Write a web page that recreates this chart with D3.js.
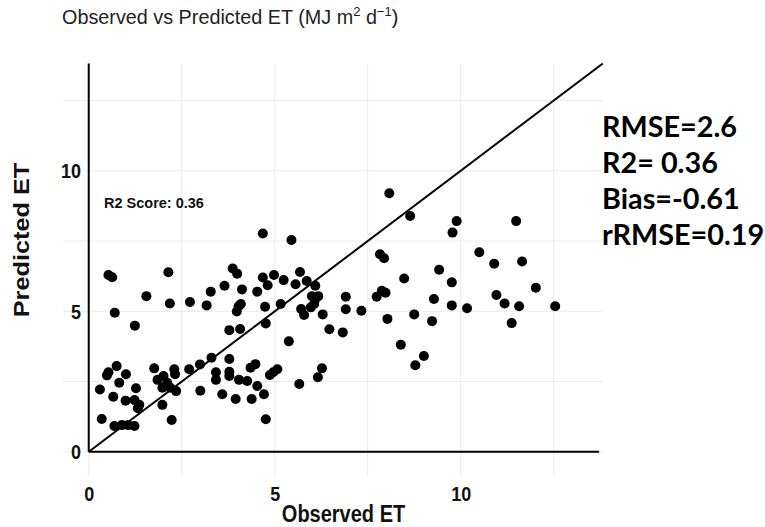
<!DOCTYPE html>
<html>
<head>
<meta charset="utf-8">
<script src="https://cdn.jsdelivr.net/npm/d3@7"></script>
<style>
  body { margin: 0; background: #fff; }
</style>
</head>
<body>
<div id="chart"></div>
<script>
// Observed / predicted ET pairs
const observed = [
  0.53, 0.63, 2.14, 1.55, 2.18, 2.72, 3.17, 3.28, 0.70, 1.24,
  4.68, 5.45, 3.87, 3.99, 3.65, 4.12, 4.53, 4.68, 4.98, 5.24,
  4.81, 5.68, 5.56, 5.86, 6.09, 4.09, 4.03, 3.98, 4.74, 5.16,
  6.00, 6.17, 6.08, 6.06, 5.97, 5.71, 5.79, 6.29, 4.76, 3.78,
  4.07, 5.38, 0.75, 0.53, 0.49, 1.00, 0.82, 0.30, 0.66, 0.99,
  1.27, 1.23, 1.36, 1.32, 0.35, 0.69, 0.89, 1.06, 1.23, 2.23,
  1.98, 1.76, 1.85, 2.01, 2.30, 2.32, 2.11, 1.98, 2.19, 2.35,
  2.70, 2.99, 3.30, 3.00, 3.78, 3.42, 3.42, 3.78, 3.78, 4.04,
  4.26, 4.35, 4.48, 4.53, 3.59, 3.95, 4.38, 4.71, 4.87, 4.96,
  5.07, 5.66, 6.16, 6.27, 4.76, 8.08, 8.64, 9.89, 9.78, 11.49,
  10.50, 10.90, 11.65, 7.83, 7.94, 9.42, 8.48, 9.76, 6.91, 7.74,
  7.88, 7.98, 9.28, 10.96, 12.02, 11.18, 11.57, 12.54, 9.76, 10.17,
  6.91, 7.33, 8.03, 8.75, 9.23, 11.37, 6.47, 6.83, 8.39, 9.01,
  8.78
];
const predicted = [
  6.29, 6.21, 6.39, 5.54, 5.28, 5.33, 5.21, 5.70, 4.95, 4.49,
  7.77, 7.54, 6.52, 6.34, 5.91, 5.78, 5.70, 6.20, 6.29, 6.11,
  5.93, 6.40, 5.96, 6.08, 5.91, 5.26, 5.18, 4.99, 5.16, 5.26,
  5.54, 5.54, 5.40, 5.26, 5.14, 5.08, 4.87, 4.89, 4.57, 4.33,
  4.37, 3.93, 3.05, 2.83, 2.72, 2.76, 2.46, 2.22, 1.96, 1.82,
  2.26, 1.84, 1.67, 1.55, 1.17, 0.92, 0.95, 0.95, 0.92, 1.13,
  1.67, 2.97, 2.56, 2.70, 2.94, 2.76, 2.46, 2.28, 2.28, 2.16,
  2.94, 3.11, 3.35, 2.17, 3.30, 2.83, 2.56, 2.85, 2.70, 2.56,
  2.52, 2.99, 3.12, 2.34, 2.05, 1.88, 1.88, 2.05, 2.73, 2.83,
  2.94, 2.41, 2.65, 2.97, 1.16, 9.20, 8.39, 8.21, 7.80, 8.21,
  7.10, 6.69, 6.77, 7.03, 6.89, 6.48, 6.17, 6.03, 5.52, 5.52,
  5.73, 5.66, 5.44, 5.58, 5.84, 5.28, 5.18, 5.18, 5.21, 5.11,
  5.07, 5.02, 4.73, 4.89, 4.65, 4.58, 4.36, 4.25, 3.81, 3.41,
  3.08
];
const tickValues = [0, 5, 10];
const gridValues = [0, 2.5, 5, 7.5, 10, 12.5];
const statLines = ["RMSE=2.6", "R2= 0.36", "Bias=-0.61", "rRMSE=0.19"];
const scoreLabel = "R2 Score: 0.36";

const data = observed.map((d, i) => ({obs: d, pred: predicted[i]}));

const width = 765;
const height = 527;
const lineMax = 13.82;
const stretch = 1.15; // text in the source image is a bit taller than wide
const font = "'Liberation Sans', Arial, sans-serif";

const x = d3.scaleLinear()
    .domain([-0.7, lineMax])
    .range([62.7, 88.7 + 37.2 * lineMax]);

const y = d3.scaleLinear()
    .domain([-0.85, lineMax])
    .range([451.8 + 0.85 * 28.1, 451.8 - 28.1 * lineMax]);

const svg = d3.select("#chart")
  .append("svg")
    .attr("width", width)
    .attr("height", height)
    .attr("viewBox", [0, 0, width, height])
    .style("font-family", font);

// grid lines
const grid = svg.append("g")
    .attr("stroke", "#ebebeb")
    .attr("stroke-width", 1);
grid.selectAll("line.v")
  .data(gridValues)
  .join("line")
    .attr("class", "v")
    .attr("x1", d => x(d)).attr("x2", d => x(d))
    .attr("y1", y.range()[0]).attr("y2", y.range()[1]);
grid.selectAll("line.h")
  .data(gridValues)
  .join("line")
    .attr("class", "h")
    .attr("y1", d => y(d)).attr("y2", d => y(d))
    .attr("x1", x.range()[0]).attr("x2", x.range()[1]);

// axis lines at zero and 1:1 line
const ref = svg.append("g")
    .attr("stroke", "#000")
    .attr("stroke-width", 2)
    .attr("fill", "none");
ref.append("line")
    .attr("x1", x(0)).attr("x2", x(0))
    .attr("y1", y(0)).attr("y2", y(lineMax));
ref.append("line")
    .attr("x1", x(0)).attr("x2", x(lineMax - 0.1))
    .attr("y1", y(0)).attr("y2", y(0));
ref.append("line")
    .attr("x1", x(0)).attr("x2", x(lineMax))
    .attr("y1", y(0)).attr("y2", y(lineMax));

// points
svg.append("g")
    .attr("fill", "#000")
  .selectAll("circle")
  .data(data)
  .join("circle")
    .attr("cx", d => x(d.obs))
    .attr("cy", d => y(d.pred))
    .attr("r", 5);

// axes (labels only)
svg.append("g")
    .attr("transform", `translate(0,501)`)
    .call(d3.axisBottom(x).tickValues(tickValues).tickSize(0).tickFormat(d3.format("d")))
    .call(g => g.select(".domain").remove())
    .attr("font-family", font)
    .call(g => g.selectAll("text")
        .attr("font-size", 18)
        .attr("font-weight", "bold")
        .attr("fill", "#111")
        .attr("dy", null)
        .attr("y", 0)
        .attr("transform", `scale(1,${stretch})`));

svg.append("g")
    .attr("transform", `translate(81,0)`)
    .call(d3.axisLeft(y).tickValues(tickValues).tickSize(0).tickFormat(d3.format("d")))
    .call(g => g.select(".domain").remove())
    .attr("font-family", font)
    .call(g => g.selectAll("text")
        .attr("font-size", 18)
        .attr("font-weight", "bold")
        .attr("fill", "#111")
        .attr("x", 0)
        .attr("dy", null)
        .attr("y", 6)
        .attr("transform", `scale(1,${stretch})`));

svg.append("text")
    .attr("transform", `translate(343.5,522) scale(1,${stretch})`)
    .attr("text-anchor", "middle")
    .attr("font-size", 20)
    .attr("font-weight", "bold")
    .attr("fill", "#111")
    .text("Observed ET");

svg.append("text")
    .attr("transform", `translate(29,240) rotate(-90) scale(${stretch},1)`)
    .attr("text-anchor", "middle")
    .attr("font-size", 22)
    .attr("font-weight", "bold")
    .attr("fill", "#111")
    .text("Predicted ET");

// title
const title = svg.append("text")
    .attr("transform", `translate(62,24) scale(1,1.05)`)
    .attr("font-size", 19.8)
    .attr("fill", "#222");
title.append("tspan").text("Observed vs Predicted ET (MJ m");
title.append("tspan").attr("font-size", 13).attr("dy", -8).text("2");
title.append("tspan").attr("dy", 8).text(" d");
title.append("tspan").attr("font-size", 13).attr("dy", -8).text("\u22121");
title.append("tspan").attr("dy", 8).text(")");

// in-plot score label
svg.append("text")
    .attr("transform", `translate(104,208) scale(1,1.05)`)
    .attr("font-size", 14.5)
    .attr("font-weight", "bold")
    .attr("fill", "#111")
    .text(scoreLabel);

// stats block on the right
svg.append("g")
  .selectAll("text")
  .data(statLines)
  .join("text")
    .attr("x", 602)
    .attr("y", (d, i) => 137 + i * 36)
    .attr("font-family", "Lato, 'Open Sans', sans-serif")
    .attr("font-weight", "bold")
    .attr("font-size", 28.8)
    .attr("fill", "#000")
    .text(d => d);
</script>
</body>
</html>
